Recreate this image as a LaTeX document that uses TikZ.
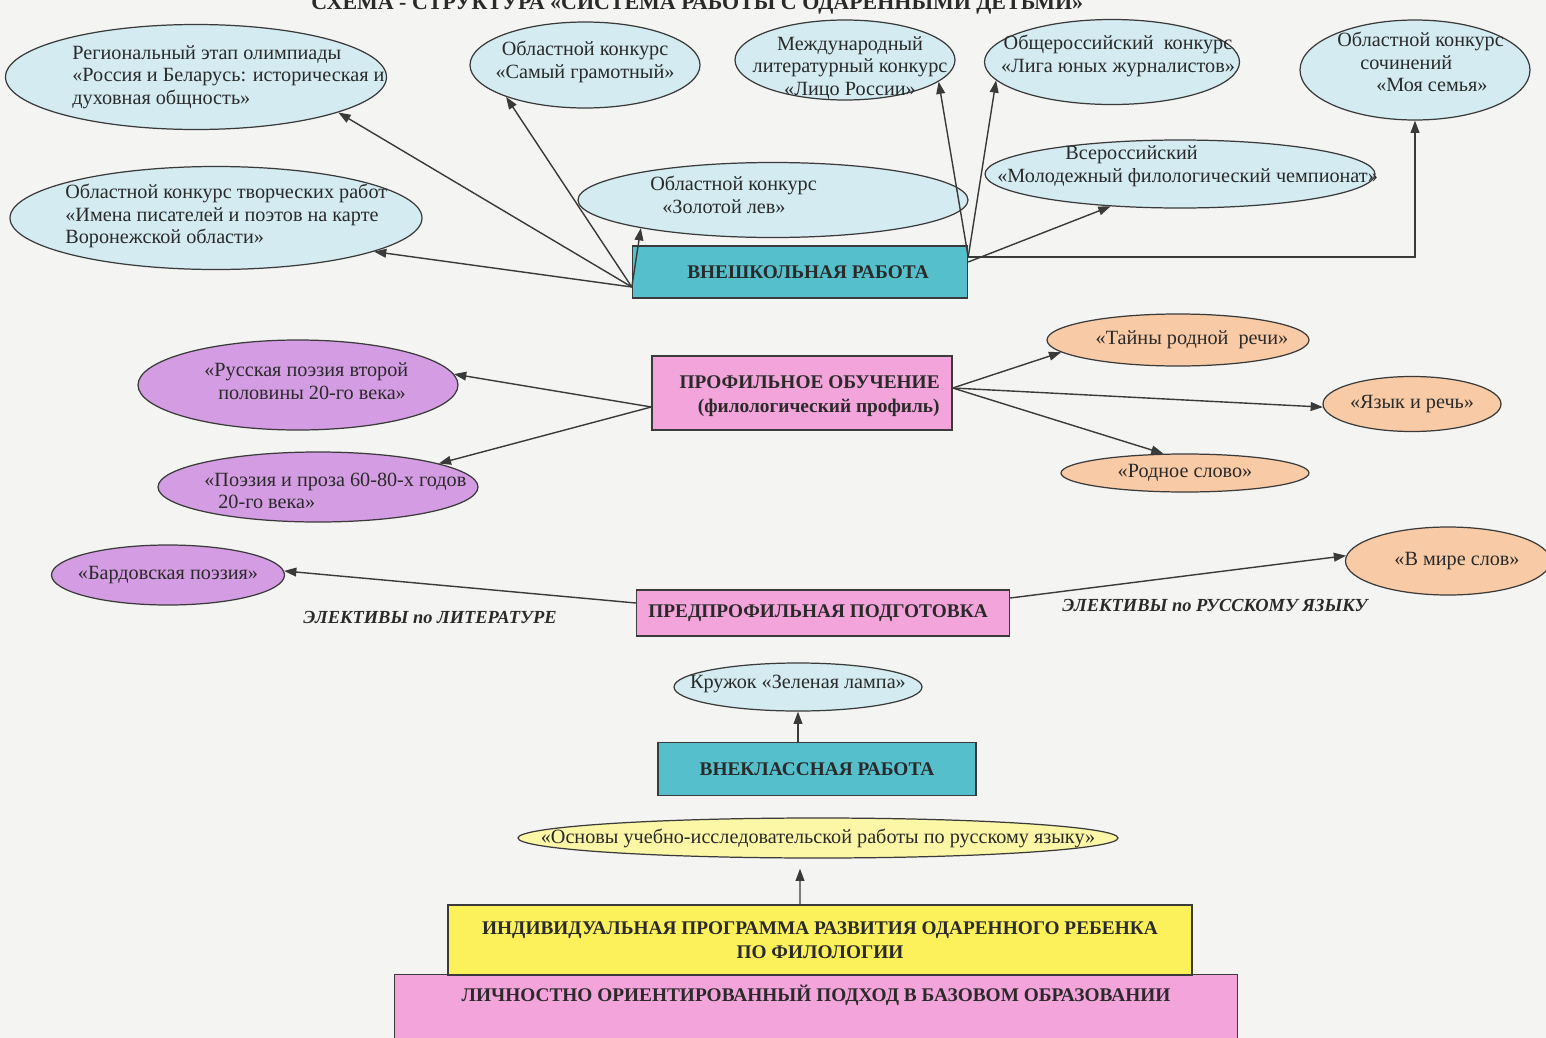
\documentclass[tikz,border=0pt]{standalone}
\usepackage{fontspec}
\setmainfont{Liberation Serif}
\usetikzlibrary{shapes.geometric,arrows.meta}
\definecolor{bgc}{HTML}{F4F5F3}
\definecolor{lblue}{HTML}{D3EBF1}
\definecolor{teal}{HTML}{55BFCB}
\definecolor{pinkc}{HTML}{F3A4DA}
\definecolor{purp}{HTML}{D49CE2}
\definecolor{peach}{HTML}{F8CBA6}
\definecolor{yell}{HTML}{FBF7A6}
\definecolor{yellb}{HTML}{FCF15A}
\definecolor{linec}{HTML}{3A3A3A}
\definecolor{txtc}{HTML}{2A2A2A}
\tikzset{
  wh/.style 2 args={minimum width=#1*0.02cm, minimum height=#2*0.02cm},
  ell/.style={ellipse, draw=linec, line width=0.7pt, inner sep=0pt},
  box/.style={rectangle, draw=linec, line width=0.8pt, inner sep=0pt},
  etl/.style={font=\fontsize{11.5}{12.9}\selectfont, text=txtc, align=left, inner sep=0pt, anchor=west},
  etc/.style={font=\fontsize{11.5}{12.9}\selectfont, text=txtc, align=center, inner sep=0pt},
  btxt/.style={font=\bfseries\fontsize{11}{13.5}\selectfont, text=txtc, inner sep=0pt},
  eltxt/.style={font=\bfseries\itshape\fontsize{10.5}{12}\selectfont, text=txtc, inner sep=0pt},
  arr/.style={draw=linec, line width=0.8pt, -{Triangle[length=7pt,width=5pt]}},
}
\begin{document}
\begin{tikzpicture}[x=0.02cm,y=-0.02cm]
\fill[bgc] (0,0) rectangle (1546,1038);
\useasboundingbox (0,0) rectangle (1546,1038);

% title (cut by the page edge, as in the original)
\node[anchor=base west, font=\bfseries\fontsize{12.5}{15}\selectfont, text=txtc, inner sep=0pt] (title) at (311,9) {СХЕМА - СТРУКТУРА «СИСТЕМА РАБОТЫ С ОДАРЕННЫМИ ДЕТЬМИ»};

% ---------- ВНЕШКОЛЬНАЯ РАБОТА ----------
\node[ell, fill=lblue, wh={381}{105}] (e1) at (196,77) {};
\node[etl, xshift=-2.48cm] (t1) at (e1.center) {Региональный этап олимпиады\\«Россия и Беларусь: историческая и\\духовная общность»};
\node[ell, fill=lblue, wh={412}{103}] (e2) at (216,218) {};
\node[etl, xshift=-3.02cm, yshift=0.04cm] (t2) at (e2.center) {Областной конкурс творческих работ\\«Имена писателей и поэтов на карте\\Воронежской области»};
\node[ell, fill=lblue, wh={230}{86}] (e3) at (585,65) {};
\node[etc, yshift=0.06cm] (t3) at (e3.center) {Областной конкурс\\«Самый грамотный»};
\node[ell, fill=lblue, wh={220}{80}] (e4) at (845,60) {};
\node[etc, xshift=0.1cm, yshift=-0.16cm] (t4) at (e4.center) {Международный\\литературный конкурс\\«Лицо России»};
\node[ell, fill=lblue, wh={255}{85}] (e5) at (1112,62) {};
\node[etc, xshift=0.12cm, yshift=0.12cm] (t5) at (e5.center) {Общероссийский\ \ конкурс\\«Лига юных журналистов»};
\node[ell, fill=lblue, wh={230}{100}] (e6) at (1415,70) {};
\node[etl, xshift=-1.56cm, yshift=0.16cm] (t6) at (e6.center) {Областной конкурс\\\hspace*{0.46cm}сочинений\\\hspace*{0.78cm}«Моя семья»};
\node[ell, fill=lblue, wh={390}{68}] (e7) at (1180,174) {};
\node[etl, xshift=-3.66cm, yshift=0.16cm] (t7) at (e7.center) {\hspace*{1.36cm}Всероссийский\\«Молодежный филологический чемпионат»};
\node[ell, fill=lblue, wh={390}{75}] (e8) at (773,200) {};
\node[etl, xshift=-2.46cm, yshift=0.1cm] (t8) at (e8.center) {Областной конкурс\\\hspace*{0.24cm}«Золотой лев»};

\node[box, fill=teal, wh={335}{52}] (vn) at (800,272) {};
\node[btxt, xshift=0.16cm] (tvn) at (vn.center) {ВНЕШКОЛЬНАЯ РАБОТА};

\draw[arr] ([yshift=-0.3cm]vn.west) -- (e1.-14);
\draw[arr] ([yshift=-0.3cm]vn.west) -- (e2.-12);
\draw[arr] ([yshift=-0.3cm]vn.west) -- (e3.-158);
\draw[arr] ([yshift=-0.3cm]vn.west) -- (e8.-168);
\draw[arr] ([yshift=0.3cm]vn.east) -- (e4.-13);
\draw[arr] ([yshift=0.3cm]vn.east) -- (e5.-171);
\draw[arr] ([yshift=0.2cm]vn.east) -- (e7.-155);
\draw[arr] ([yshift=0.3cm]vn.east) -| (e6.south);

% ---------- ПРОФИЛЬНОЕ ОБУЧЕНИЕ ----------
\node[box, fill=pinkc, wh={300}{74}] (po) at (802,393) {};
\node[btxt, align=right, anchor=east, xshift=2.76cm, yshift=-0.06cm] (tpo) at (po.center) {ПРОФИЛЬНОЕ ОБУЧЕНИЕ\\(филологический профиль)};
\node[ell, fill=purp, wh={320}{90}] (e11) at (298,385) {};
\node[etl, xshift=-1.88cm, yshift=0.08cm] (t11) at (e11.center) {«Русская поэзия второй\\\hspace*{0.28cm}половины 20-го века»};
\node[ell, fill=purp, wh={320}{70}] (e12) at (318,487) {};
\node[etl, xshift=-2.28cm, yshift=-0.08cm] (t12) at (e12.center) {«Поэзия и проза 60-80-х годов\\\hspace*{0.28cm}20-го века»};
\node[ell, fill=peach, wh={262}{52}] (e13) at (1178,340) {};
\node[etc, xshift=0.28cm] (t13) at (e13.center) {«Тайны родной\ \ речи»};
\node[ell, fill=peach, wh={178}{55}] (e14) at (1412,404) {};
\node[etc] (t14) at (e14.center) {«Язык и речь»};
\node[ell, fill=peach, wh={248}{38}] (e15) at (1185,473) {};
\node[etc] (t15) at (e15.center) {«Родное слово»};

\draw[arr] ([yshift=-0.28cm]po.west) -- (e11.4);
\draw[arr] ([yshift=-0.28cm]po.west) -- (e12.11);
\draw[arr] ([yshift=0.1cm]po.east) -- (e13.186);
\draw[arr] ([yshift=0.1cm]po.east) -- (e14.182);
\draw[arr] ([yshift=0.1cm]po.east) -- (e15.138);

% ---------- ПРЕДПРОФИЛЬНАЯ ПОДГОТОВКА ----------
\node[box, fill=pinkc, wh={373}{46}] (pp) at (823,613) {};
\node[btxt, xshift=-0.1cm] (tpp) at (pp.center) {ПРЕДПРОФИЛЬНАЯ ПОДГОТОВКА};
\node[ell, fill=purp, wh={233}{60}] (e16) at (168,575) {};
\node[etc] (t16) at (e16.center) {«Бардовская поэзия»};
\node[ell, fill=peach, wh={205}{68}] (e17) at (1448,561) {};
\node[etc, xshift=0.18cm] (t17) at (e17.center) {«В мире слов»};
\draw[arr] ([yshift=0.2cm]pp.west) -- (e16.2);
\draw[arr] ([yshift=0.3cm]pp.east) -- (e17.177);
\node[eltxt] (lit) at (430,617) {ЭЛЕКТИВЫ по ЛИТЕРАТУРЕ};
\node[eltxt] (rus) at (1215,605) {ЭЛЕКТИВЫ по РУССКОМУ ЯЗЫКУ};

% ---------- ВНЕКЛАССНАЯ РАБОТА ----------
\node[ell, fill=lblue, wh={248}{48}] (krz) at (798,687) {};
\node[etc, yshift=0.06cm] (tkrz) at (krz.center) {Кружок «Зеленая лампа»};
\node[box, fill=teal, wh={318}{53}] (vk) at (817,769) {};
\node[btxt] (tvk) at (vk.center) {ВНЕКЛАССНАЯ РАБОТА};
\draw[arr] (krz.south |- vk.north) -- (krz.south);

\node[ell, fill=yell, wh={600}{40}] (osn) at (818,838) {};
\node[etc] (tosn) at (osn.center) {«Основы учебно-исследовательской работы по русскому языку»};

% ---------- base ----------
\node[box, fill=pinkc, wh={843}{75}] (lo) at (816,1012) {};
\node[btxt, yshift=0.34cm] (tlo) at (lo.center) {ЛИЧНОСТНО ОРИЕНТИРОВАННЫЙ ПОДХОД В БАЗОВОМ ОБРАЗОВАНИИ};
\node[box, fill=yellb, wh={744}{70}] (ip) at (820,940) {};
\node[btxt, align=center] (tip) at (ip.center) {ИНДИВИДУАЛЬНАЯ ПРОГРАММА РАЗВИТИЯ ОДАРЕННОГО РЕБЕНКА\\ПО ФИЛОЛОГИИ};
\draw[arr] ([xshift=-0.4cm]ip.north) -- ([xshift=-0.36cm,yshift=-0.2cm]osn.south);
\end{tikzpicture}
\end{document}
